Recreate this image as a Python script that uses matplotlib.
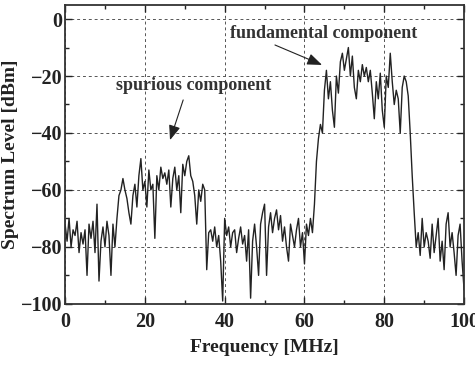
import numpy as np
import matplotlib
matplotlib.use("Agg")
import matplotlib.pyplot as plt
from matplotlib.ticker import MultipleLocator

freq_start = 0.0
freq_step = 0.5
level_dbm = [
    -72, -78, -70, -80, -74, -76, -71, -82, -75, -79,
    -74, -90, -72, -77, -71, -82, -65, -92, -78, -73,
    -80, -71, -76, -90, -72, -80, -70, -62, -60, -56,
    -60, -63, -68, -72, -62, -58, -66, -55, -49, -60,
    -57, -66, -53, -60, -58, -77, -55, -60, -52, -56,
    -54, -58, -53, -66, -56, -52, -60, -55, -68, -51,
    -55, -50, -48, -55, -57, -62, -72, -60, -64, -58,
    -60, -88, -75, -74, -78, -73, -80, -76, -85, -99,
    -70, -76, -73, -80, -75, -74, -82, -77, -73, -79,
    -76, -85, -74, -98, -78, -72, -80, -90, -72, -68,
    -65, -90, -73, -68, -75, -70, -67, -74, -69, -78,
    -73, -80, -85, -72, -76, -80, -74, -70, -80, -75,
    -86, -72, -76, -70, -75, -65, -50, -42, -37, -40,
    -25, -18, -28, -22, -32, -38, -20, -26, -15, -12,
    -18, -14, -10, -20, -13, -24, -28, -18, -22, -16,
    -20, -17, -22, -18, -26, -35, -22, -28, -19, -32,
    -38, -20, -24, -12, -22, -30, -25, -28, -40, -24,
    -20, -22, -27, -40, -55, -68, -80, -75, -83, -70,
    -80, -75, -78, -84, -72, -82, -76, -70, -85, -78,
    -88, -72, -68, -80, -75, -82, -90, -76, -72, -85,
    -95,
]
freq_mhz = freq_start + freq_step * np.arange(len(level_dbm))

x_ticks = [0, 20, 40, 60, 80, 100]
y_ticks = [0, -20, -40, -60, -80, -100]

plt.rcParams['font.family'] = ['Liberation Serif', 'DejaVu Serif']
plt.rcParams['font.weight'] = 'bold'

fig = plt.figure(figsize=(4.75, 3.71), dpi=100)
ax = fig.add_axes([0.137, 0.181, 0.840, 0.806])

ax.plot(freq_mhz, level_dbm, color='#222222', lw=1.0)

ax.set_xlim(0, 100)
ax.set_ylim(-100, 5)
ax.set_xticks(x_ticks)
ax.set_yticks(y_ticks)
ax.set_xticklabels([str(t) for t in x_ticks], fontsize=14.5, fontweight='bold')
ax.set_yticklabels([('\u2212' + str(-t)) if t < 0 else str(t) for t in y_ticks],
                   fontsize=14.5, fontweight='bold')
ax.xaxis.set_minor_locator(MultipleLocator(10))
ax.yaxis.set_minor_locator(MultipleLocator(10))
ax.tick_params(which='both', direction='in', top=True, right=True, width=1.0,
               colors='#222222')
ax.tick_params(which='major', length=5)
ax.tick_params(axis='y', which='major', pad=2)
ax.tick_params(axis='x', which='major', pad=6)
ax.tick_params(which='minor', length=3)
for s in ax.spines.values():
    s.set_linewidth(1.3)
    s.set_color('#333333')

ax.grid(True, which='major', linestyle=(0, (3, 3)), color='#555555', lw=0.7)

ax.set_xlabel('Frequency [MHz]', fontsize=14, fontweight='bold', labelpad=5,
              color='#222222')
ax.set_ylabel('Spectrum Level [dBm]', fontsize=14, fontweight='bold', labelpad=1,
              color='#222222')

arrow = dict(arrowstyle='-|>,head_length=0.9,head_width=0.35', color='#222222', lw=0.8,
             shrinkA=0, shrinkB=0)
ax.text(32.1, -23.5, 'spurious component', ha='center', va='center',
        fontsize=13, fontweight='bold', color='#333333')
ax.annotate('', xy=(26.3, -42.5), xytext=(29.6, -28.4), arrowprops=arrow)
ax.text(64.9, -4.9, 'fundamental component', ha='center', va='center',
        fontsize=13, fontweight='bold', color='#333333')
ax.annotate('', xy=(64.4, -16.1), xytext=(52.6, -9.1), arrowprops=arrow)

fig.savefig('out.png', dpi=100)
